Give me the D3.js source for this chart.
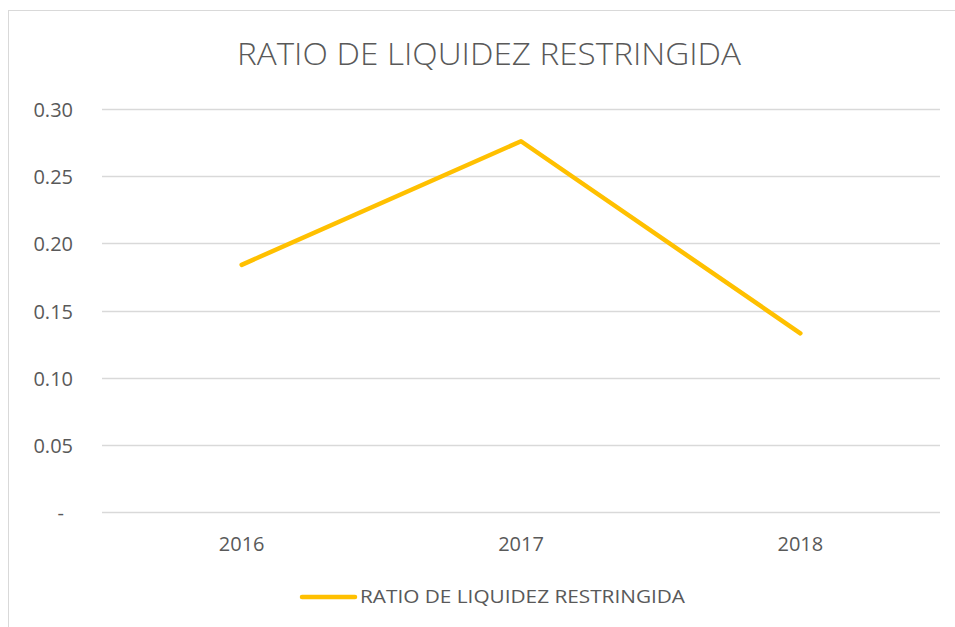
<!DOCTYPE html>
<html>
<head>
<meta charset="utf-8">
<script src="https://cdn.jsdelivr.net/npm/d3@7"></script>
<style>
  body { margin: 0; background: #fff; }
  text { font-family: "Open Sans", "Liberation Sans", sans-serif; fill: #595959; }
</style>
</head>
<body>
<div id="chart"></div>
<script>
var years = ["2016", "2017", "2018"];
var ratio = [0.184, 0.276, 0.133];
var yTicks = [0, 0.05, 0.10, 0.15, 0.20, 0.25, 0.30];
var seriesName = "RATIO DE LIQUIDEZ RESTRINGIDA";

var width = 955, height = 627;
var svg = d3.select("#chart").append("svg")
    .attr("width", width)
    .attr("height", height);

// chart frame (runs off the right and bottom edge)
svg.append("rect")
    .attr("x", 8.5).attr("y", 10.5)
    .attr("width", 960).attr("height", 630)
    .attr("fill", "#fff")
    .attr("stroke", "#d9d9d9");

var x = d3.scaleBand().domain(years).range([102, 940]);
var y = d3.scaleLinear().domain([0, 0.30]).range([512, 109]);

// gridlines
svg.selectAll(".grid")
    .data(yTicks)
    .enter()
    .append("line")
    .attr("class", "grid")
    .attr("x1", 102).attr("x2", 940)
    .attr("y1", function (d) { return Math.round(y(d)) + 0.5; })
    .attr("y2", function (d) { return Math.round(y(d)) + 0.5; })
    .attr("stroke", "#d9d9d9")
    .attr("stroke-width", 1.3);

// y labels
svg.selectAll(".ylab")
    .data(yTicks)
    .enter()
    .append("text")
    .attr("class", "ylab")
    .attr("x", function (d) { return d === 0 ? 64 : 73; })
    .attr("y", function (d) { return y(d) + 8; })
    .attr("text-anchor", "end")
    .style("font-size", "20px")
    .text(function (d) { return d === 0 ? "-" : d3.format(".2f")(d); });

// x labels
svg.selectAll(".xlab")
    .data(years)
    .enter()
    .append("text")
    .attr("class", "xlab")
    .attr("x", function (d) { return x(d) + x.bandwidth() / 2; })
    .attr("y", 551)
    .attr("text-anchor", "middle")
    .style("font-size", "20px")
    .text(function (d) { return d; });

// line
var line = d3.line()
    .x(function (d, i) { return x(years[i]) + x.bandwidth() / 2; })
    .y(function (d) { return y(d); });

svg.append("path")
    .datum(ratio)
    .attr("d", line)
    .attr("fill", "none")
    .attr("stroke", "#ffc000")
    .attr("stroke-width", 4.5)
    .attr("stroke-linecap", "round")
    .attr("stroke-linejoin", "round");

// title
svg.append("text")
    .attr("x", 489)
    .attr("y", 65)
    .attr("text-anchor", "middle")
    .attr("textLength", 504)
    .attr("lengthAdjust", "spacingAndGlyphs")
    .style("font-size", "31px")
    .style("font-weight", 300)
    .text(seriesName);

// legend
svg.append("line")
    .attr("x1", 302).attr("x2", 355)
    .attr("y1", 597).attr("y2", 597)
    .attr("stroke", "#ffc000")
    .attr("stroke-width", 4.5)
    .attr("stroke-linecap", "round");

svg.append("text")
    .attr("x", 360)
    .attr("y", 603)
    .attr("textLength", 325)
    .attr("lengthAdjust", "spacingAndGlyphs")
    .style("font-size", "19px")
    .text(seriesName);
</script>
</body>
</html>
